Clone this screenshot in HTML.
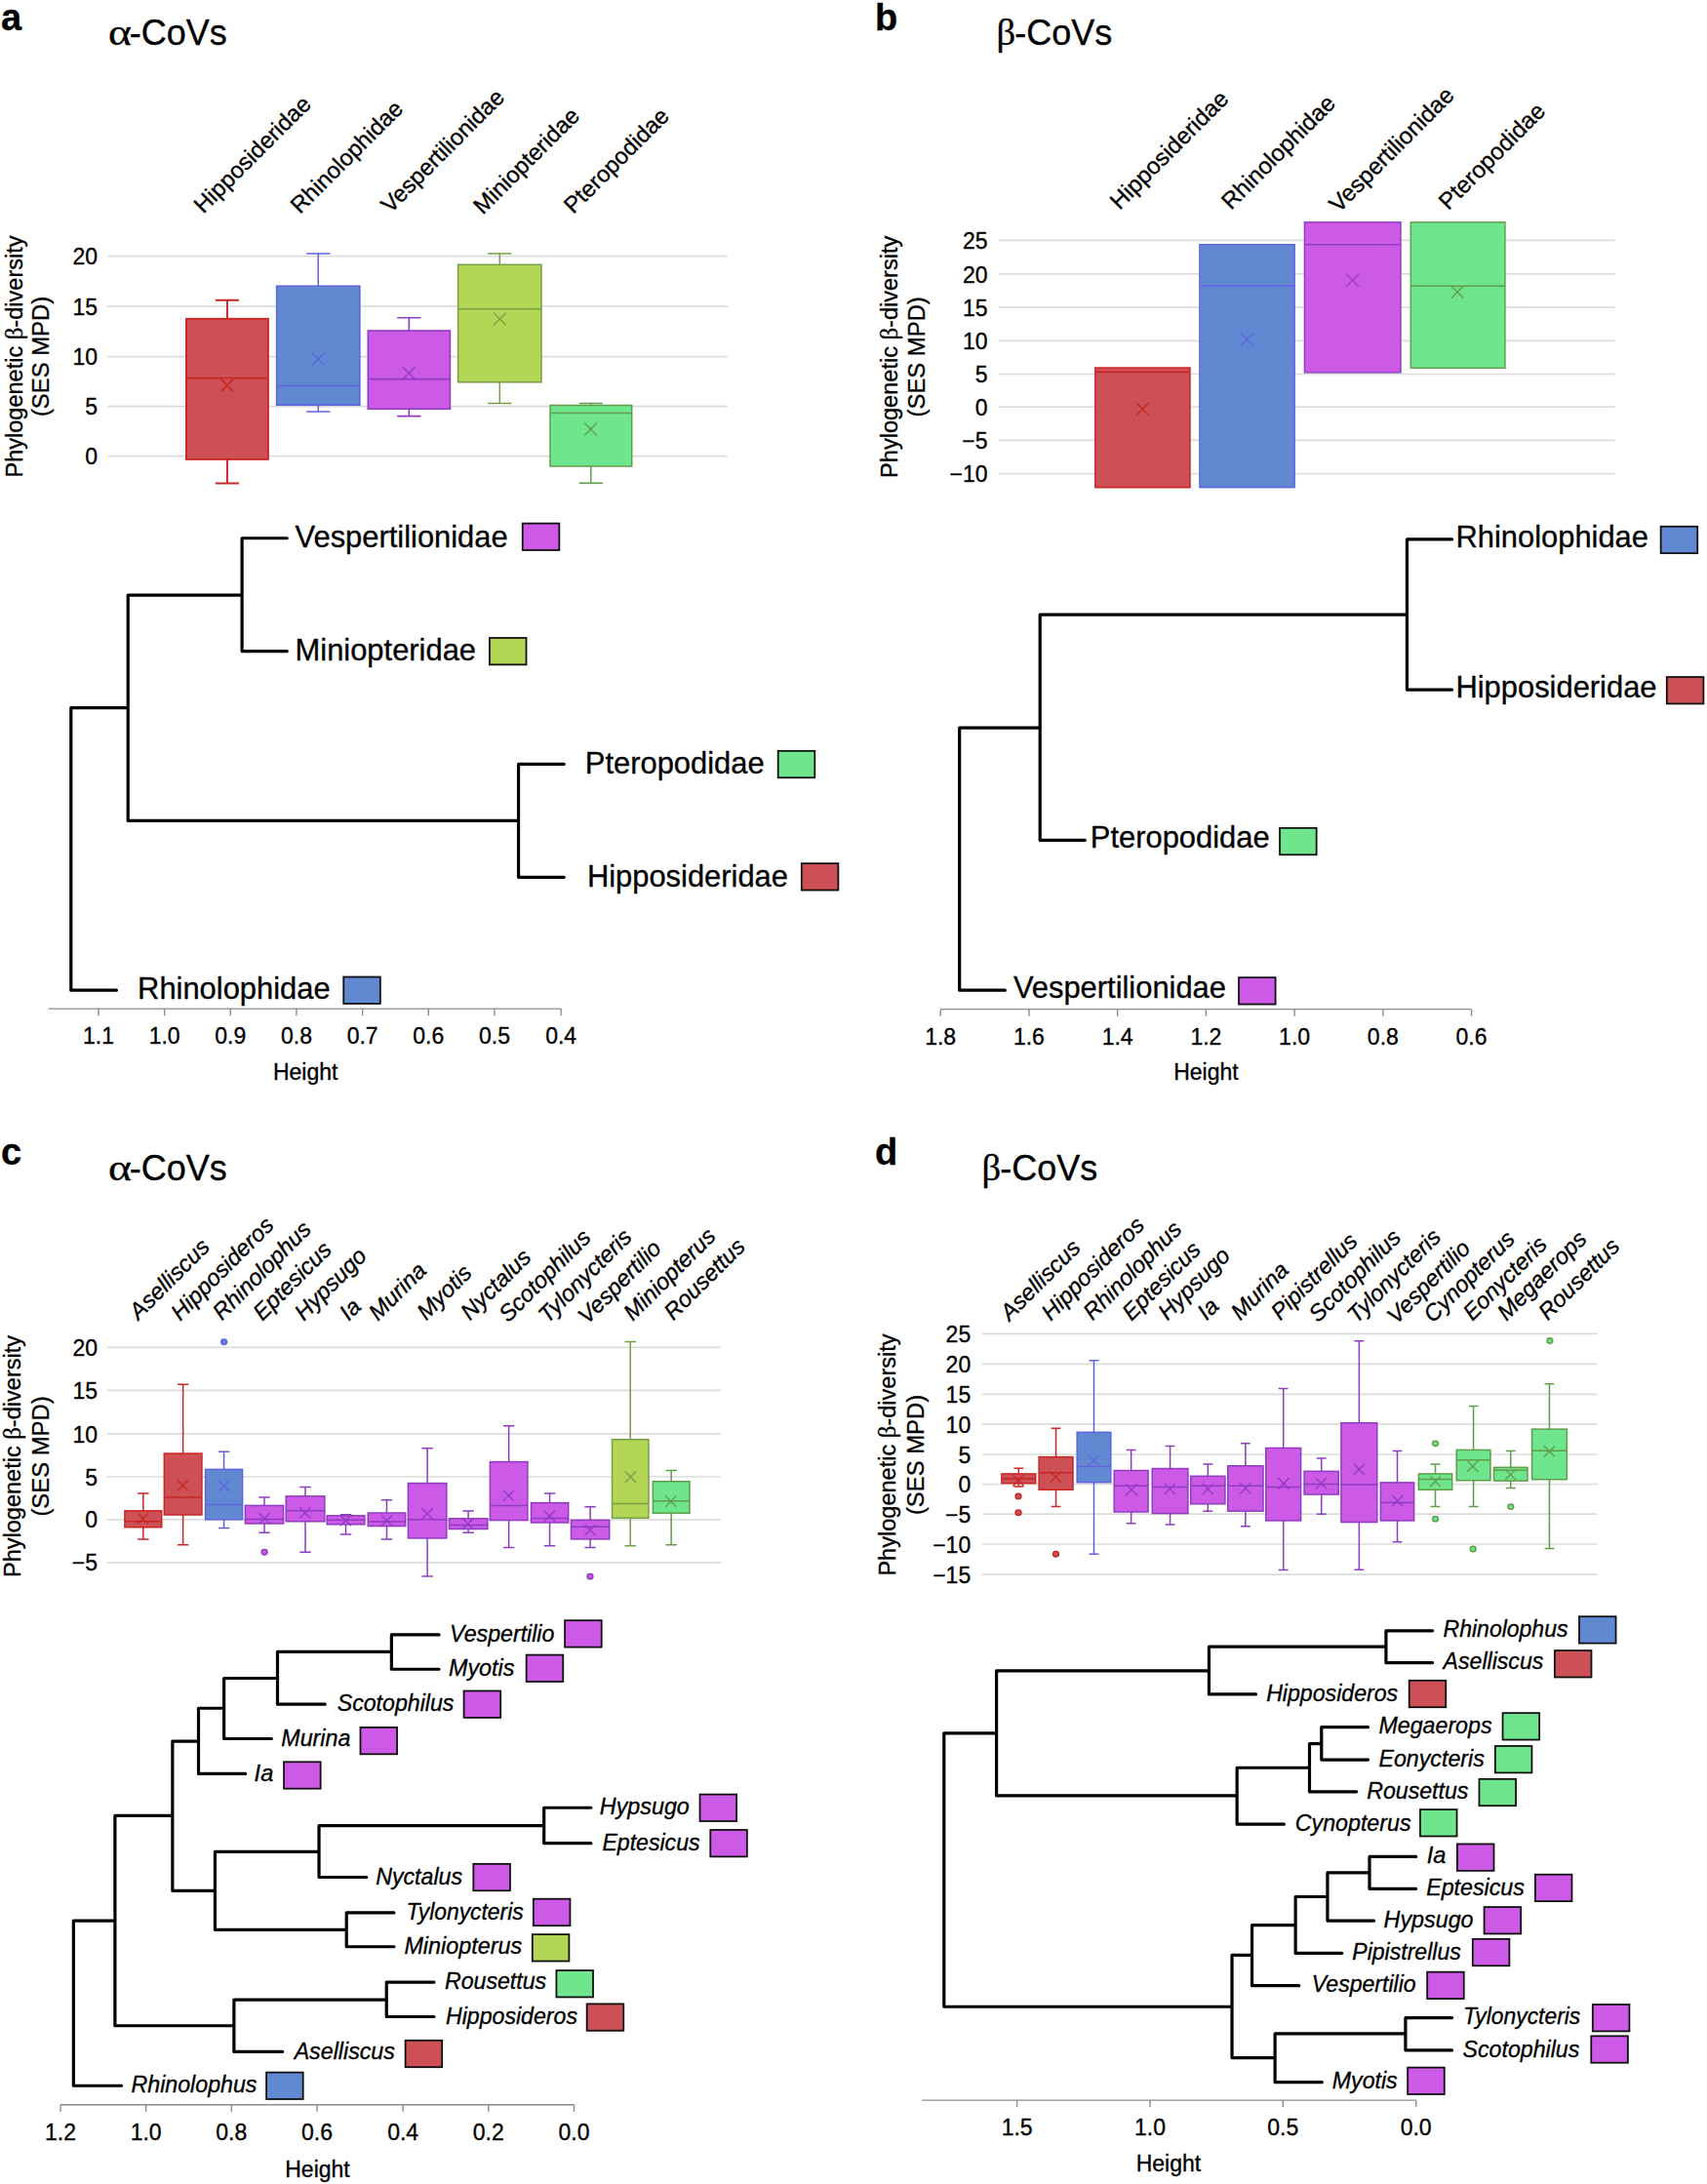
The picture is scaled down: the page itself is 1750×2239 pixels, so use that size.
<!DOCTYPE html>
<html lang="en">
<head>
<meta charset="utf-8">
<title>Phylogenetic beta-diversity of bat coronaviruses</title>
<style>
html,body{margin:0;padding:0;background:#fff}
body{width:1750px;height:2239px;overflow:hidden}
svg{display:block}
svg text{font-family:"Liberation Sans", Arial, Helvetica, sans-serif;fill:#000;stroke:#000;stroke-width:.32px;stroke-linejoin:round}
</style>
</head>
<body>
<svg width="1750" height="2239" viewBox="0 0 1750 2239" shape-rendering="geometricPrecision">
<rect width="1750" height="2239" fill="#fff"/>
<text x="1" y="31.2" font-size="38" text-anchor="start" font-weight="bold" stroke="none">a</text>
<text transform="translate(111 46) scale(1.18 1)" style='font-family:&quot;Liberation Serif&quot;, &quot;Times New Roman&quot;, serif' font-size="38.5">α</text>
<text x="132.8" y="46" font-size="36">-CoVs</text>
<text x="22.6" y="365.5" font-size="23.55" text-anchor="middle" transform="rotate(-90 22.6 365.5)">Phylogenetic <tspan font-family='"Liberation Serif", "Times New Roman", serif' font-size="24.73">β</tspan>-diversity</text>
<text x="50.4" y="365.5" font-size="23.85" text-anchor="middle" transform="rotate(-90 50.4 365.5)">(SES MPD)</text>
<line x1="110.3" y1="262.7" x2="745.8" y2="262.7" stroke="#dcdcdc" stroke-width="1.7"/>
<line x1="110.3" y1="314.1" x2="745.8" y2="314.1" stroke="#dcdcdc" stroke-width="1.7"/>
<line x1="110.3" y1="365.7" x2="745.8" y2="365.7" stroke="#dcdcdc" stroke-width="1.7"/>
<line x1="110.3" y1="416.6" x2="745.8" y2="416.6" stroke="#dcdcdc" stroke-width="1.7"/>
<line x1="110.3" y1="467.7" x2="745.8" y2="467.7" stroke="#dcdcdc" stroke-width="1.7"/>
<text x="100" y="271.3" font-size="23" text-anchor="end">20</text>
<text x="100" y="322.7" font-size="23" text-anchor="end">15</text>
<text x="100" y="374.3" font-size="23" text-anchor="end">10</text>
<text x="100" y="425.2" font-size="23" text-anchor="end">5</text>
<text x="100" y="476.3" font-size="23" text-anchor="end">0</text>
<g stroke="#c92626" stroke-width="1.9" fill="none"><path d="M232.95 326.8V307.7M220.8 307.7H245.1"/><path d="M232.95 470.9V495.5M220.8 495.5H245.1"/><rect x="191" y="326.8" width="83.9" height="144.1" fill="#cc5055"/><path d="M191 387.6H274.9"/><path d="M226.6 388.7L239.2 401.3M226.6 401.3L239.2 388.7" stroke-width="1.71"/></g>
<g stroke="#5f63de" stroke-width="1.5" fill="none"><path d="M326.25 293.2V259.9M314.1 259.9H338.4"/><path d="M326.25 415.3V422M314.1 422H338.4"/><rect x="283.6" y="293.2" width="85.3" height="122.1" fill="#6189d2"/><path d="M283.6 395.4H368.9"/><path d="M320 362L332.6 374.6M320 374.6L332.6 362" stroke-width="1.35"/></g>
<g stroke="#8e3cc0" stroke-width="1.6" fill="none"><path d="M419.35 339V325.8M407.2 325.8H431.5"/><path d="M419.35 419.3V426.6M407.2 426.6H431.5"/><rect x="377.3" y="339" width="84.1" height="80.3" fill="#cd5ae6"/><path d="M377.3 388.6H461.4"/><path d="M413 376.3L425.6 388.9M413 388.9L425.6 376.3" stroke-width="1.44"/></g>
<g stroke="#76a046" stroke-width="1.5" fill="none"><path d="M512.3 271.3V259.9M500.15 259.9H524.45"/><path d="M512.3 391.8V413.5M500.15 413.5H524.45"/><rect x="469.6" y="271.3" width="85.4" height="120.5" fill="#b3d656"/><path d="M469.6 316.7H555"/><path d="M506.1 320.7L518.7 333.3M506.1 333.3L518.7 320.7" stroke-width="1.35"/></g>
<g stroke="#5f9e48" stroke-width="1.5" fill="none"><path d="M605.85 415.5V413.5M593.7 413.5H618"/><path d="M605.85 478V495.3M593.7 495.3H618"/><rect x="564" y="415.5" width="83.7" height="62.5" fill="#6fe58e"/><path d="M564 423.6H647.7"/><path d="M599.3 433.7L611.9 446.3M599.3 446.3L611.9 433.7" stroke-width="1.35"/></g>
<text x="208.5" y="219.8" font-size="23.7" text-anchor="start" transform="rotate(-45 208.5 219.8)">Hipposideridae</text>
<text x="307.5" y="220" font-size="23.7" text-anchor="start" transform="rotate(-45 307.5 220)">Rhinolophidae</text>
<text x="400.2" y="219.4" font-size="23.7" text-anchor="start" transform="rotate(-45 400.2 219.4)">Vespertilionidae</text>
<text x="495" y="220.7" font-size="23.7" text-anchor="start" transform="rotate(-45 495 220.7)">Miniopteridae</text>
<text x="587.7" y="220" font-size="23.7" text-anchor="start" transform="rotate(-45 587.7 220)">Pteropodidae</text>
<text x="897" y="30.5" font-size="38" text-anchor="start" font-weight="bold" stroke="none">b</text>
<text transform="translate(1021.5 46) scale(1.03 1)" style='font-family:&quot;Liberation Serif&quot;, &quot;Times New Roman&quot;, serif' font-size="37.5">β</text>
<text x="1040.2" y="46" font-size="36">-CoVs</text>
<text x="919.9" y="365.8" font-size="23.55" text-anchor="middle" transform="rotate(-90 919.9 365.8)">Phylogenetic <tspan font-family='"Liberation Serif", "Times New Roman", serif' font-size="24.73">β</tspan>-diversity</text>
<text x="948.4" y="365.8" font-size="23.85" text-anchor="middle" transform="rotate(-90 948.4 365.8)">(SES MPD)</text>
<line x1="1023.6" y1="246.4" x2="1655.6" y2="246.4" stroke="#dcdcdc" stroke-width="1.7"/>
<line x1="1023.6" y1="280.9" x2="1655.6" y2="280.9" stroke="#dcdcdc" stroke-width="1.7"/>
<line x1="1023.6" y1="315.1" x2="1655.6" y2="315.1" stroke="#dcdcdc" stroke-width="1.7"/>
<line x1="1023.6" y1="349.3" x2="1655.6" y2="349.3" stroke="#dcdcdc" stroke-width="1.7"/>
<line x1="1023.6" y1="383.5" x2="1655.6" y2="383.5" stroke="#dcdcdc" stroke-width="1.7"/>
<line x1="1023.6" y1="417.2" x2="1655.6" y2="417.2" stroke="#dcdcdc" stroke-width="1.7"/>
<line x1="1023.6" y1="451.4" x2="1655.6" y2="451.4" stroke="#dcdcdc" stroke-width="1.7"/>
<line x1="1023.6" y1="485.7" x2="1655.6" y2="485.7" stroke="#dcdcdc" stroke-width="1.7"/>
<text x="1012.6" y="255" font-size="23" text-anchor="end">25</text>
<text x="1012.6" y="289.5" font-size="23" text-anchor="end">20</text>
<text x="1012.6" y="323.7" font-size="23" text-anchor="end">15</text>
<text x="1012.6" y="357.9" font-size="23" text-anchor="end">10</text>
<text x="1012.6" y="392.1" font-size="23" text-anchor="end">5</text>
<text x="1012.6" y="425.8" font-size="23" text-anchor="end">0</text>
<text x="1012.6" y="460" font-size="23" text-anchor="end">−5</text>
<text x="1012.6" y="494.3" font-size="23" text-anchor="end">−10</text>
<g stroke="#c92626" stroke-width="1.6" fill="none"><rect x="1122.9" y="377.1" width="97" height="122.6" fill="#cc5055"/><path d="M1122.9 381.4H1219.9"/><path d="M1165.1 413.1L1177.7 425.7M1165.1 425.7L1177.7 413.1" stroke-width="1.44"/></g>
<g stroke="#5f63de" stroke-width="1.4" fill="none"><rect x="1229.9" y="250.7" width="97.3" height="249" fill="#6189d2"/><path d="M1229.9 293.3H1327.2"/><path d="M1272.1 341.7L1284.7 354.3M1272.1 354.3L1284.7 341.7" stroke-width="1.26"/></g>
<g stroke="#8e3cc0" stroke-width="1.4" fill="none"><rect x="1337.4" y="227.8" width="98.6" height="154.1" fill="#cd5ae6"/><path d="M1337.4 250.7H1436"/><path d="M1380.4 281L1393 293.6M1380.4 293.6L1393 281" stroke-width="1.26"/></g>
<g stroke="#5f9e48" stroke-width="1.4" fill="none"><rect x="1446.3" y="227.8" width="96.7" height="149.5" fill="#6fe58e"/><path d="M1446.3 293.3H1543"/><path d="M1487.9 293.2L1500.5 305.8M1487.9 305.8L1500.5 293.2" stroke-width="1.26"/></g>
<text x="1147.7" y="216" font-size="24" text-anchor="start" transform="rotate(-45 1147.7 216)">Hipposideridae</text>
<text x="1262" y="215.9" font-size="24" text-anchor="start" transform="rotate(-45 1262 215.9)">Rhinolophidae</text>
<text x="1372.4" y="219" font-size="24" text-anchor="start" transform="rotate(-45 1372.4 219)">Vespertilionidae</text>
<text x="1484.8" y="216.2" font-size="24" text-anchor="start" transform="rotate(-45 1484.8 216.2)">Pteropodidae</text>
<path d="M248.1 551.76H294.23M248.1 667.61H294.23M248.1 551.76V667.61M131.22 610.2H248.1M531.56 783.45H578.21M531.56 899.3H578.21M531.56 783.45V899.3M131.22 841.38H531.56M131.22 610.2V841.38M72.79 725.53H131.22M72.79 1015.15H119.43M72.79 725.53V1015.15" fill="none" stroke="#000" stroke-width="3.2" stroke-linecap="round" stroke-linejoin="round"/>
<text x="302.56" y="560.96" font-size="30.9" text-anchor="start">Vespertilionidae</text>
<rect x="535.75" y="536.59" width="37.6" height="27.4" fill="#cd5ae6" stroke="#111" stroke-width="1.8"/>
<text x="302.56" y="676.81" font-size="30.9" text-anchor="start">Miniopteridae</text>
<rect x="501.92" y="653.98" width="37.6" height="27.4" fill="#b3d656" stroke="#111" stroke-width="1.8"/>
<text x="599.86" y="792.65" font-size="30.9" text-anchor="start">Pteropodidae</text>
<rect x="797.69" y="769.83" width="37.6" height="27.4" fill="#6fe58e" stroke="#111" stroke-width="1.8"/>
<text x="601.91" y="908.5" font-size="30.9" text-anchor="start">Hipposideridae</text>
<rect x="821.78" y="885.16" width="37.6" height="27.4" fill="#cc5055" stroke="#111" stroke-width="1.8"/>
<text x="141.09" y="1024.35" font-size="30.9" text-anchor="start">Rhinolophidae</text>
<rect x="352.24" y="1001.52" width="37.6" height="27.4" fill="#6189d2" stroke="#111" stroke-width="1.8"/>
<text x="100.98" y="1070.11" font-size="23" text-anchor="middle">1.1</text>
<text x="168.64" y="1070.11" font-size="23" text-anchor="middle">1.0</text>
<text x="236.31" y="1070.11" font-size="23" text-anchor="middle">0.9</text>
<text x="303.97" y="1070.11" font-size="23" text-anchor="middle">0.8</text>
<text x="371.63" y="1070.11" font-size="23" text-anchor="middle">0.7</text>
<text x="439.29" y="1070.11" font-size="23" text-anchor="middle">0.6</text>
<text x="506.96" y="1070.11" font-size="23" text-anchor="middle">0.5</text>
<text x="575.13" y="1070.11" font-size="23" text-anchor="middle">0.4</text>
<path d="M49.72 1034.11H575.13M100.98 1034.11v7.2M168.64 1034.11v7.2M236.31 1034.11v7.2M303.97 1034.11v7.2M371.63 1034.11v7.2M439.29 1034.11v7.2M506.96 1034.11v7.2M575.13 1034.11v7.2" fill="none" stroke="#8c8c8c" stroke-width="1.4"/>
<text x="313.2" y="1107.41" font-size="23" text-anchor="middle">Height</text>
<path d="M1442.44 552.8H1488.58M1442.44 707.09H1488.58M1442.44 552.8V707.09M1066.2 630.2H1442.44M1066.2 861.38H1112.33M1066.2 630.2V861.38M983.67 746.05H1066.2M983.67 1015.16H1030.32M983.67 746.05V1015.16" fill="none" stroke="#000" stroke-width="3.2" stroke-linecap="round" stroke-linejoin="round"/>
<text x="1492.46" y="560.7" font-size="30.9" text-anchor="start">Rhinolophidae</text>
<rect x="1702.64" y="539.77" width="37.6" height="27.4" fill="#6189d2" stroke="#111" stroke-width="1.8"/>
<text x="1492.46" y="714.99" font-size="30.9" text-anchor="start">Hipposideridae</text>
<rect x="1708.79" y="694.06" width="37.6" height="27.4" fill="#cc5055" stroke="#111" stroke-width="1.8"/>
<text x="1117.82" y="869.28" font-size="30.9" text-anchor="start">Pteropodidae</text>
<rect x="1312.04" y="848.86" width="37.6" height="27.4" fill="#6fe58e" stroke="#111" stroke-width="1.8"/>
<text x="1038.88" y="1023.06" font-size="30.9" text-anchor="start">Vespertilionidae</text>
<rect x="1270.01" y="1002.13" width="37.6" height="27.4" fill="#cd5ae6" stroke="#111" stroke-width="1.8"/>
<text x="964.19" y="1070.64" font-size="23" text-anchor="middle">1.8</text>
<text x="1054.92" y="1070.64" font-size="23" text-anchor="middle">1.6</text>
<text x="1145.65" y="1070.64" font-size="23" text-anchor="middle">1.4</text>
<text x="1236.38" y="1070.64" font-size="23" text-anchor="middle">1.2</text>
<text x="1327.11" y="1070.64" font-size="23" text-anchor="middle">1.0</text>
<text x="1417.84" y="1070.64" font-size="23" text-anchor="middle">0.8</text>
<text x="1508.57" y="1070.64" font-size="23" text-anchor="middle">0.6</text>
<path d="M964.19 1034.64H1508.57M964.19 1034.64v7.2M1054.92 1034.64v7.2M1145.65 1034.64v7.2M1236.38 1034.64v7.2M1327.11 1034.64v7.2M1417.84 1034.64v7.2M1508.57 1034.64v7.2" fill="none" stroke="#8c8c8c" stroke-width="1.4"/>
<text x="1236.38" y="1106.91" font-size="23" text-anchor="middle">Height</text>
<text x="1" y="1193.9" font-size="38" text-anchor="start" font-weight="bold" stroke="none">c</text>
<text transform="translate(111 1209.8) scale(1.18 1)" style='font-family:&quot;Liberation Serif&quot;, &quot;Times New Roman&quot;, serif' font-size="38.5">α</text>
<text x="132.8" y="1209.8" font-size="36">-CoVs</text>
<text x="21.4" y="1493" font-size="23.55" text-anchor="middle" transform="rotate(-90 21.4 1493)">Phylogenetic <tspan font-family='"Liberation Serif", "Times New Roman", serif' font-size="24.73">β</tspan>-diversity</text>
<text x="50.4" y="1493" font-size="23.85" text-anchor="middle" transform="rotate(-90 50.4 1493)">(SES MPD)</text>
<line x1="110" y1="1381.3" x2="739" y2="1381.3" stroke="#dcdcdc" stroke-width="1.7"/>
<line x1="110" y1="1425.3" x2="739" y2="1425.3" stroke="#dcdcdc" stroke-width="1.7"/>
<line x1="110" y1="1469.9" x2="739" y2="1469.9" stroke="#dcdcdc" stroke-width="1.7"/>
<line x1="110" y1="1514" x2="739" y2="1514" stroke="#dcdcdc" stroke-width="1.7"/>
<line x1="110" y1="1557.8" x2="739" y2="1557.8" stroke="#dcdcdc" stroke-width="1.7"/>
<line x1="110" y1="1601.8" x2="739" y2="1601.8" stroke="#dcdcdc" stroke-width="1.7"/>
<text x="100" y="1389.9" font-size="23" text-anchor="end">20</text>
<text x="100" y="1433.9" font-size="23" text-anchor="end">15</text>
<text x="100" y="1478.5" font-size="23" text-anchor="end">10</text>
<text x="100" y="1522.6" font-size="23" text-anchor="end">5</text>
<text x="100" y="1566.4" font-size="23" text-anchor="end">0</text>
<text x="100" y="1610.4" font-size="23" text-anchor="end">−5</text>
<g stroke="#c92626" stroke-width="1.5" fill="none"><path d="M146.81 1548.82V1531.1M141.11 1531.1H152.51"/><path d="M146.81 1565.75V1577.9M141.11 1577.9H152.51"/><rect x="127.89" y="1548.82" width="37.84" height="16.93" fill="#cc5055"/><path d="M127.89 1559.78H165.73"/><path d="M141.01 1550.99L152.21 1562.19M141.01 1562.19L152.21 1550.99" stroke-width="1.35"/></g>
<g stroke="#c92626" stroke-width="1.5" fill="none"><path d="M187.64 1490.06V1419.36M181.94 1419.36H193.34"/><path d="M187.64 1553.01V1583.68M181.94 1583.68H193.34"/><rect x="168.32" y="1490.06" width="38.64" height="62.94" fill="#cc5055"/><path d="M168.32 1535.08H206.96"/><path d="M181.84 1517.33L193.04 1528.53M181.84 1528.53L193.04 1517.33" stroke-width="1.35"/></g>
<g stroke="#5f63de" stroke-width="1.5" fill="none"><path d="M229.57 1506.4V1488.27M223.87 1488.27H235.27"/><path d="M229.57 1557.79V1566.55M223.87 1566.55H235.27"/><rect x="210.54" y="1506.4" width="38.04" height="51.39" fill="#6189d2"/><path d="M210.54 1542.45H248.59"/><path d="M224.07 1517.73L235.27 1528.93M224.07 1528.93L235.27 1517.73" stroke-width="1.35"/><ellipse cx="229.67" cy="1375.74" rx="2.9" ry="2.7" fill="#6189d2" stroke-width="1.5"/></g>
<g stroke="#8e3cc0" stroke-width="1.5" fill="none"><path d="M271 1543.44V1535.08M265.3 1535.08H276.7"/><path d="M271 1561.97V1571.13M265.3 1571.13H276.7"/><rect x="251.38" y="1543.44" width="39.24" height="18.52" fill="#cd5ae6"/><path d="M251.38 1557.59H290.62"/><path d="M265.5 1551.19L276.7 1562.39M265.5 1562.39L276.7 1551.19" stroke-width="1.35"/><ellipse cx="271.1" cy="1591.25" rx="2.9" ry="2.7" fill="#cd5ae6" stroke-width="1.5"/></g>
<g stroke="#8e3cc0" stroke-width="1.5" fill="none"><path d="M313.02 1533.88V1524.52M307.32 1524.52H318.72"/><path d="M313.02 1559.78V1591.25M307.32 1591.25H318.72"/><rect x="293.2" y="1533.88" width="39.64" height="25.89" fill="#cd5ae6"/><path d="M293.2 1548.82H332.84"/><path d="M307.12 1545.21L318.32 1556.41M307.12 1556.41L318.32 1545.21" stroke-width="1.35"/></g>
<g stroke="#8e3cc0" stroke-width="1.5" fill="none"><path d="M354.55 1553.8V1552.81M348.85 1552.81H360.25"/><path d="M354.55 1562.77V1573.12M348.85 1573.12H360.25"/><rect x="335.23" y="1553.8" width="38.64" height="8.96" fill="#cd5ae6"/><path d="M335.23 1558.18H373.87"/><path d="M348.75 1553.18L359.95 1564.38M348.75 1564.38L359.95 1553.18" stroke-width="1.35"/></g>
<g stroke="#8e3cc0" stroke-width="1.5" fill="none"><path d="M396.48 1551.01V1537.67M390.78 1537.67H402.18"/><path d="M396.48 1564.56V1577.9M390.78 1577.9H402.18"/><rect x="377.26" y="1551.01" width="38.44" height="13.54" fill="#cd5ae6"/><path d="M377.26 1559.98H415.7"/><path d="M390.98 1553.18L402.18 1564.38M390.98 1564.38L402.18 1553.18" stroke-width="1.35"/></g>
<g stroke="#8e3cc0" stroke-width="1.5" fill="none"><path d="M438.08 1520.54V1484.69M432.38 1484.69H443.78"/><path d="M438.08 1576.91V1615.95M432.38 1615.95H443.78"/><rect x="418.37" y="1520.54" width="39.44" height="56.37" fill="#cd5ae6"/><path d="M418.37 1557.79H457.8"/><path d="M432.48 1546.21L443.68 1557.41M432.48 1557.41L443.68 1546.21" stroke-width="1.35"/></g>
<g stroke="#8e3cc0" stroke-width="1.5" fill="none"><path d="M480.11 1556.79V1549.02M474.41 1549.02H485.81"/><path d="M480.11 1567.55V1571.13M474.41 1571.13H485.81"/><rect x="460.39" y="1556.79" width="39.44" height="10.76" fill="#cd5ae6"/><path d="M460.39 1563.56H499.83"/><path d="M474.11 1556.57L485.31 1567.77M474.11 1567.77L485.31 1556.57" stroke-width="1.35"/></g>
<g stroke="#8e3cc0" stroke-width="1.5" fill="none"><path d="M521.64 1498.63V1461.78M515.94 1461.78H527.34"/><path d="M521.64 1558.58V1586.47M515.94 1586.47H527.34"/><rect x="502.42" y="1498.63" width="38.44" height="59.95" fill="#cd5ae6"/><path d="M502.42 1543.44H540.86"/><path d="M515.94 1527.69L527.14 1538.89M515.94 1538.89L527.14 1527.69" stroke-width="1.35"/></g>
<g stroke="#8e3cc0" stroke-width="1.5" fill="none"><path d="M563.57 1540.66V1531.1M557.87 1531.1H569.27"/><path d="M563.57 1560.97V1584.67M557.87 1584.67H569.27"/><rect x="544.45" y="1540.66" width="38.24" height="20.32" fill="#cd5ae6"/><path d="M544.45 1556.59H582.69"/><path d="M557.77 1548.6L568.97 1559.8M557.77 1559.8L568.97 1548.6" stroke-width="1.35"/></g>
<g stroke="#8e3cc0" stroke-width="1.5" fill="none"><path d="M605.1 1558.38V1544.64M599.4 1544.64H610.8"/><path d="M605.1 1577.9V1586.47M599.4 1586.47H610.8"/><rect x="585.48" y="1558.38" width="39.24" height="19.52" fill="#cd5ae6"/><path d="M585.48 1565.35H624.72"/><path d="M599.4 1562.94L610.6 1574.14M599.4 1574.14L610.6 1562.94" stroke-width="1.35"/><ellipse cx="605" cy="1616.15" rx="2.9" ry="2.7" fill="#cd5ae6" stroke-width="1.5"/></g>
<g stroke="#76a046" stroke-width="1.5" fill="none"><path d="M646.23 1475.72V1375.54M640.53 1375.54H651.93"/><path d="M646.23 1556.19V1584.67M640.53 1584.67H651.93"/><rect x="627.5" y="1475.72" width="37.45" height="80.47" fill="#b3d656"/><path d="M627.5 1541.45H664.95"/><path d="M640.83 1508.57L652.03 1519.77M640.83 1519.77L652.03 1508.57" stroke-width="1.35"/></g>
<g stroke="#5f9e48" stroke-width="1.5" fill="none"><path d="M688.15 1518.75V1507.39M682.45 1507.39H693.85"/><path d="M688.15 1551.21V1583.68M682.45 1583.68H693.85"/><rect x="669.33" y="1518.75" width="37.64" height="32.47" fill="#6fe58e"/><path d="M669.33 1538.86H706.98"/><path d="M682.26 1533.46L693.46 1544.66M682.26 1544.66L693.46 1533.46" stroke-width="1.35"/></g>
<text x="142.1" y="1353.9" font-size="23.6" text-anchor="start" font-style="italic" transform="rotate(-45 142.1 1353.9)">Aselliscus</text>
<text x="184.7" y="1354.9" font-size="23.6" text-anchor="start" font-style="italic" transform="rotate(-45 184.7 1354.9)">Hipposideros</text>
<text x="227.6" y="1354.5" font-size="23.6" text-anchor="start" font-style="italic" transform="rotate(-45 227.6 1354.5)">Rhinolophus</text>
<text x="269" y="1354.9" font-size="23.6" text-anchor="start" font-style="italic" transform="rotate(-45 269 1354.9)">Eptesicus</text>
<text x="311.4" y="1354.9" font-size="23.6" text-anchor="start" font-style="italic" transform="rotate(-45 311.4 1354.9)">Hypsugo</text>
<text x="357.6" y="1354.9" font-size="23.6" text-anchor="start" font-style="italic" transform="rotate(-45 357.6 1354.9)">Ia</text>
<text x="387.5" y="1354.9" font-size="23.6" text-anchor="start" font-style="italic" transform="rotate(-45 387.5 1354.9)">Murina</text>
<text x="436.9" y="1354.5" font-size="23.6" text-anchor="start" font-style="italic" transform="rotate(-45 436.9 1354.5)">Myotis</text>
<text x="481.8" y="1354.4" font-size="23.6" text-anchor="start" font-style="italic" transform="rotate(-45 481.8 1354.4)">Nyctalus</text>
<text x="520.9" y="1356.5" font-size="23.6" text-anchor="start" font-style="italic" transform="rotate(-45 520.9 1356.5)">Scotophilus</text>
<text x="561.4" y="1357.4" font-size="23.6" text-anchor="start" font-style="italic" transform="rotate(-45 561.4 1357.4)">Tylonycteris</text>
<text x="602.1" y="1358.5" font-size="23.6" text-anchor="start" font-style="italic" transform="rotate(-45 602.1 1358.5)">Vespertilio</text>
<text x="648.8" y="1355" font-size="23.6" text-anchor="start" font-style="italic" transform="rotate(-45 648.8 1355)">Miniopterus</text>
<text x="690.2" y="1354.4" font-size="23.6" text-anchor="start" font-style="italic" transform="rotate(-45 690.2 1354.4)">Rousettus</text>
<text x="897" y="1193.5" font-size="38" text-anchor="start" font-weight="bold" stroke="none">d</text>
<text transform="translate(1006.5 1209.8) scale(1.03 1)" style='font-family:&quot;Liberation Serif&quot;, &quot;Times New Roman&quot;, serif' font-size="37.5">β</text>
<text x="1025.2" y="1209.8" font-size="36">-CoVs</text>
<text x="917.9" y="1491.5" font-size="23.55" text-anchor="middle" transform="rotate(-90 917.9 1491.5)">Phylogenetic <tspan font-family='"Liberation Serif", "Times New Roman", serif' font-size="24.73">β</tspan>-diversity</text>
<text x="947.1" y="1491.5" font-size="23.85" text-anchor="middle" transform="rotate(-90 947.1 1491.5)">(SES MPD)</text>
<line x1="1007" y1="1367.3" x2="1637.6" y2="1367.3" stroke="#dcdcdc" stroke-width="1.7"/>
<line x1="1007" y1="1398.4" x2="1637.6" y2="1398.4" stroke="#dcdcdc" stroke-width="1.7"/>
<line x1="1007" y1="1429.3" x2="1637.6" y2="1429.3" stroke="#dcdcdc" stroke-width="1.7"/>
<line x1="1007" y1="1459.9" x2="1637.6" y2="1459.9" stroke="#dcdcdc" stroke-width="1.7"/>
<line x1="1007" y1="1491" x2="1637.6" y2="1491" stroke="#dcdcdc" stroke-width="1.7"/>
<line x1="1007" y1="1521.5" x2="1637.6" y2="1521.5" stroke="#dcdcdc" stroke-width="1.7"/>
<line x1="1007" y1="1552.2" x2="1637.6" y2="1552.2" stroke="#dcdcdc" stroke-width="1.7"/>
<line x1="1007" y1="1583" x2="1637.6" y2="1583" stroke="#dcdcdc" stroke-width="1.7"/>
<line x1="1007" y1="1614.1" x2="1637.6" y2="1614.1" stroke="#dcdcdc" stroke-width="1.7"/>
<text x="995.2" y="1375.9" font-size="23" text-anchor="end">25</text>
<text x="995.2" y="1407" font-size="23" text-anchor="end">20</text>
<text x="995.2" y="1437.9" font-size="23" text-anchor="end">15</text>
<text x="995.2" y="1468.5" font-size="23" text-anchor="end">10</text>
<text x="995.2" y="1499.6" font-size="23" text-anchor="end">5</text>
<text x="995.2" y="1530.1" font-size="23" text-anchor="end">0</text>
<text x="995.2" y="1560.8" font-size="23" text-anchor="end">−5</text>
<text x="995.2" y="1591.6" font-size="23" text-anchor="end">−10</text>
<text x="995.2" y="1622.7" font-size="23" text-anchor="end">−15</text>
<g stroke="#c92626" stroke-width="1.5" fill="none"><path d="M1044.32 1510.94V1505.36M1039.42 1505.36H1049.22"/><path d="M1044.32 1520.7V1523.88M1039.42 1523.88H1049.22"/><rect x="1026.89" y="1510.94" width="34.86" height="9.76" fill="#cc5055"/><path d="M1026.89 1515.92H1061.75"/><path d="M1038.42 1512.31L1049.62 1523.51M1038.42 1523.51L1049.62 1512.31" stroke-width="1.35"/><ellipse cx="1044.02" cy="1534.04" rx="2.9" ry="2.7" fill="#cc5055" stroke-width="1.5"/><ellipse cx="1044.02" cy="1550.77" rx="2.9" ry="2.7" fill="#cc5055" stroke-width="1.5"/></g>
<g stroke="#c92626" stroke-width="1.5" fill="none"><path d="M1082.56 1493.61V1464.33M1077.66 1464.33H1087.46"/><path d="M1082.56 1527.27V1544.4M1077.66 1544.4H1087.46"/><rect x="1065.13" y="1493.61" width="34.86" height="33.66" fill="#cc5055"/><path d="M1065.13 1509.74H1099.99"/><path d="M1076.66 1508.52L1087.86 1519.72M1076.66 1519.72L1087.86 1508.52" stroke-width="1.35"/><ellipse cx="1082.46" cy="1593.2" rx="2.9" ry="2.7" fill="#cc5055" stroke-width="1.5"/></g>
<g stroke="#5f63de" stroke-width="1.5" fill="none"><path d="M1121.5 1468.31V1394.82M1116.6 1394.82H1126.4"/><path d="M1121.5 1519.7V1593.2M1116.6 1593.2H1126.4"/><rect x="1104.17" y="1468.31" width="34.66" height="51.39" fill="#6189d2"/><path d="M1104.17 1503.57H1138.83"/><path d="M1115.7 1491.59L1126.9 1502.79M1115.7 1502.79L1126.9 1491.59" stroke-width="1.35"/></g>
<g stroke="#8e3cc0" stroke-width="1.5" fill="none"><path d="M1159.64 1507.55V1486.44M1154.74 1486.44H1164.54"/><path d="M1159.64 1549.98V1561.73M1154.74 1561.73H1164.54"/><rect x="1142.21" y="1507.55" width="34.86" height="42.43" fill="#cd5ae6"/><path d="M1142.21 1523.29H1177.07"/><path d="M1154.34 1521.47L1165.54 1532.67M1154.34 1532.67L1165.54 1521.47" stroke-width="1.35"/></g>
<g stroke="#8e3cc0" stroke-width="1.5" fill="none"><path d="M1199.58 1505.56V1482.45M1194.68 1482.45H1204.48"/><path d="M1199.58 1551.57V1562.92M1194.68 1562.92H1204.48"/><rect x="1181.25" y="1505.56" width="36.65" height="46.01" fill="#cd5ae6"/><path d="M1181.25 1524.48H1217.9"/><path d="M1193.78 1520.87L1204.98 1532.07M1193.78 1532.07L1204.98 1520.87" stroke-width="1.35"/></g>
<g stroke="#8e3cc0" stroke-width="1.5" fill="none"><path d="M1238.32 1513.33V1500.98M1233.42 1500.98H1243.22"/><path d="M1238.32 1541.81V1549.18M1233.42 1549.18H1243.22"/><rect x="1220.69" y="1513.33" width="35.25" height="28.48" fill="#cd5ae6"/><path d="M1220.69 1523.29H1255.95"/><path d="M1232.62 1520.87L1243.82 1532.07M1232.62 1532.07L1243.82 1520.87" stroke-width="1.35"/></g>
<g stroke="#8e3cc0" stroke-width="1.5" fill="none"><path d="M1276.86 1502.77V1479.87M1271.96 1479.87H1281.76"/><path d="M1276.86 1549.18V1564.72M1271.96 1564.72H1281.76"/><rect x="1258.73" y="1502.77" width="36.25" height="46.41" fill="#cd5ae6"/><path d="M1258.73 1523.29H1294.99"/><path d="M1271.26 1520.28L1282.46 1531.48M1271.26 1531.48L1282.46 1520.28" stroke-width="1.35"/></g>
<g stroke="#8e3cc0" stroke-width="1.5" fill="none"><path d="M1315.7 1484.45V1423.5M1310.8 1423.5H1320.6"/><path d="M1315.7 1558.94V1609.53M1310.8 1609.53H1320.6"/><rect x="1297.77" y="1484.45" width="35.85" height="74.49" fill="#cd5ae6"/><path d="M1297.77 1524.48H1333.63"/><path d="M1310.3 1515.3L1321.5 1526.5M1310.3 1526.5L1321.5 1515.3" stroke-width="1.35"/></g>
<g stroke="#8e3cc0" stroke-width="1.5" fill="none"><path d="M1354.72 1508.35V1495M1349.82 1495H1359.62"/><path d="M1354.72 1532.05V1552.17M1349.82 1552.17H1359.62"/><rect x="1337.09" y="1508.35" width="35.25" height="23.7" fill="#cd5ae6"/><path d="M1337.09 1521.49H1372.34"/><path d="M1348.82 1515.3L1360.02 1526.5M1348.82 1526.5L1360.02 1515.3" stroke-width="1.35"/></g>
<g stroke="#8e3cc0" stroke-width="1.5" fill="none"><path d="M1393.36 1458.75V1374.7M1388.46 1374.7H1398.26"/><path d="M1393.36 1560.53V1609.33M1388.46 1609.33H1398.26"/><rect x="1374.93" y="1458.75" width="36.85" height="101.78" fill="#cd5ae6"/><path d="M1374.93 1522.09H1411.78"/><path d="M1387.86 1500.76L1399.06 1511.96M1387.86 1511.96L1399.06 1500.76" stroke-width="1.35"/></g>
<g stroke="#8e3cc0" stroke-width="1.5" fill="none"><path d="M1432.5 1519.9V1487.43M1427.6 1487.43H1437.4"/><path d="M1432.5 1558.94V1580.85M1427.6 1580.85H1437.4"/><rect x="1415.37" y="1519.9" width="34.26" height="39.04" fill="#cd5ae6"/><path d="M1415.37 1540.62H1449.63"/><path d="M1427.09 1533.02L1438.29 1544.22M1427.09 1544.22L1438.29 1533.02" stroke-width="1.35"/></g>
<g stroke="#5f9e48" stroke-width="1.5" fill="none"><path d="M1471.53 1510.94V1500.98M1466.63 1500.98H1476.43"/><path d="M1471.53 1527.27V1544.4M1466.63 1544.4H1476.43"/><rect x="1454.41" y="1510.94" width="34.26" height="16.33" fill="#6fe58e"/><path d="M1454.41 1516.51H1488.66"/><path d="M1465.93 1513.11L1477.13 1524.31M1465.93 1524.31L1477.13 1513.11" stroke-width="1.35"/><ellipse cx="1471.53" cy="1479.87" rx="2.9" ry="2.7" fill="#6fe58e" stroke-width="1.5"/><ellipse cx="1471.53" cy="1557.15" rx="2.9" ry="2.7" fill="#6fe58e" stroke-width="1.5"/></g>
<g stroke="#5f9e48" stroke-width="1.5" fill="none"><path d="M1510.57 1486.44V1441.62M1505.67 1441.62H1515.47"/><path d="M1510.57 1517.71V1544.4M1505.67 1544.4H1515.47"/><rect x="1493.25" y="1486.44" width="34.66" height="31.27" fill="#6fe58e"/><path d="M1493.25 1496.8H1527.9"/><path d="M1504.18 1497.57L1515.38 1508.77M1504.18 1508.77L1515.38 1497.57" stroke-width="1.35"/><ellipse cx="1510.18" cy="1588.02" rx="2.9" ry="2.7" fill="#6fe58e" stroke-width="1.5"/></g>
<g stroke="#5f9e48" stroke-width="1.5" fill="none"><path d="M1548.72 1504.36V1487.43M1543.82 1487.43H1553.62"/><path d="M1548.72 1518.11V1525.48M1543.82 1525.48H1553.62"/><rect x="1531.49" y="1504.36" width="34.46" height="13.74" fill="#6fe58e"/><path d="M1531.49 1507.35H1565.95"/><path d="M1543.02 1506.13L1554.22 1517.33M1543.02 1517.33L1554.22 1506.13" stroke-width="1.35"/><ellipse cx="1548.82" cy="1544.6" rx="2.9" ry="2.7" fill="#6fe58e" stroke-width="1.5"/></g>
<g stroke="#5f9e48" stroke-width="1.5" fill="none"><path d="M1588.45 1465.13V1418.72M1583.55 1418.72H1593.35"/><path d="M1588.45 1516.71V1587.42M1583.55 1587.42H1593.35"/><rect x="1570.53" y="1465.13" width="35.85" height="51.59" fill="#6fe58e"/><path d="M1570.53 1487.23H1606.38"/><path d="M1582.85 1482.23L1594.05 1493.43M1582.85 1493.43L1594.05 1482.23" stroke-width="1.35"/><ellipse cx="1588.85" cy="1374.5" rx="2.9" ry="2.7" fill="#6fe58e" stroke-width="1.5"/></g>
<text x="1034.9" y="1354.9" font-size="23.6" text-anchor="start" font-style="italic" transform="rotate(-45 1034.9 1354.9)">Aselliscus</text>
<text x="1077.3" y="1354.9" font-size="23.6" text-anchor="start" font-style="italic" transform="rotate(-45 1077.3 1354.9)">Hipposideros</text>
<text x="1120.1" y="1354.5" font-size="23.6" text-anchor="start" font-style="italic" transform="rotate(-45 1120.1 1354.5)">Rhinolophus</text>
<text x="1160" y="1354.9" font-size="23.6" text-anchor="start" font-style="italic" transform="rotate(-45 1160 1354.9)">Eptesicus</text>
<text x="1196.8" y="1354.5" font-size="23.6" text-anchor="start" font-style="italic" transform="rotate(-45 1196.8 1354.5)">Hypsugo</text>
<text x="1237.1" y="1354.5" font-size="23.6" text-anchor="start" font-style="italic" transform="rotate(-45 1237.1 1354.5)">Ia</text>
<text x="1271.5" y="1354.5" font-size="23.6" text-anchor="start" font-style="italic" transform="rotate(-45 1271.5 1354.5)">Murina</text>
<text x="1312.4" y="1354.5" font-size="23.6" text-anchor="start" font-style="italic" transform="rotate(-45 1312.4 1354.5)">Pipistrellus</text>
<text x="1351.3" y="1356.5" font-size="23.6" text-anchor="start" font-style="italic" transform="rotate(-45 1351.3 1356.5)">Scotophilus</text>
<text x="1390.8" y="1357.4" font-size="23.6" text-anchor="start" font-style="italic" transform="rotate(-45 1390.8 1357.4)">Tylonycteris</text>
<text x="1431.4" y="1358.5" font-size="23.6" text-anchor="start" font-style="italic" transform="rotate(-45 1431.4 1358.5)">Vespertilio</text>
<text x="1469.1" y="1357" font-size="23.6" text-anchor="start" font-style="italic" transform="rotate(-45 1469.1 1357)">Cynopterus</text>
<text x="1509.4" y="1355" font-size="23.6" text-anchor="start" font-style="italic" transform="rotate(-45 1509.4 1355)">Eonycteris</text>
<text x="1544.6" y="1355" font-size="23.6" text-anchor="start" font-style="italic" transform="rotate(-45 1544.6 1355)">Megaerops</text>
<text x="1586.8" y="1354.4" font-size="23.6" text-anchor="start" font-style="italic" transform="rotate(-45 1586.8 1354.4)">Rousettus</text>
<path d="M401.36 1675.88H450.06M401.36 1711.25H450.06M401.36 1675.88V1711.25M284.49 1693.31H401.36M284.49 1747.13H333.19M284.49 1693.31V1747.13M229.64 1720.48H284.49M229.64 1782.5H278.34M229.64 1720.48V1782.5M203.5 1751.23H229.64M203.5 1818.38H251.68M203.5 1751.23V1818.38M176.85 1785.06H203.5M557.7 1853.24H605.89M557.7 1889.63H605.89M557.7 1853.24V1889.63M327.04 1871.69H557.7M327.04 1924.49H375.73M327.04 1871.69V1924.49M220.42 1898.35H327.04M355.23 1960.88H403.93M355.23 1995.74H403.93M355.23 1960.88V1995.74M220.42 1978.31H355.23M220.42 1898.35V1978.31M176.85 1938.33H220.42M176.85 1785.06V1938.33M117.9 1861.44H176.85M396.24 2032.14H444.93M396.24 2067.5H444.93M396.24 2032.14V2067.5M239.89 2050.08H396.24M239.89 2103.39H289.62M239.89 2050.08V2103.39M117.9 2076.73H239.89M117.9 1861.44V2076.73M75.35 1969.09H117.9M75.35 2138.24H124.56M75.35 1969.09V2138.24" fill="none" stroke="#000" stroke-width="3.2" stroke-linecap="round" stroke-linejoin="round"/>
<text x="461.06" y="1683.08" font-size="23.4" text-anchor="start" font-style="italic" textLength="107.37" lengthAdjust="spacingAndGlyphs">Vespertilio</text>
<rect x="579.12" y="1661.22" width="37.6" height="27.4" fill="#cd5ae6" stroke="#111" stroke-width="1.8"/>
<text x="460.04" y="1718.45" font-size="23.4" text-anchor="start" font-style="italic" textLength="67.39" lengthAdjust="spacingAndGlyphs">Myotis</text>
<rect x="539.65" y="1696.59" width="37.6" height="27.4" fill="#cd5ae6" stroke="#111" stroke-width="1.8"/>
<text x="345.73" y="1754.33" font-size="23.4" text-anchor="start" font-style="italic" textLength="119.67" lengthAdjust="spacingAndGlyphs">Scotophilus</text>
<rect x="475.58" y="1733.49" width="37.6" height="27.4" fill="#cd5ae6" stroke="#111" stroke-width="1.8"/>
<text x="288.32" y="1789.7" font-size="23.4" text-anchor="start" font-style="italic" textLength="70.98" lengthAdjust="spacingAndGlyphs">Murina</text>
<rect x="369.47" y="1770.91" width="37.6" height="27.4" fill="#cd5ae6" stroke="#111" stroke-width="1.8"/>
<text x="260.64" y="1825.58" font-size="23.4" text-anchor="start" font-style="italic" textLength="19.72" lengthAdjust="spacingAndGlyphs">Ia</text>
<rect x="291.04" y="1806.28" width="37.6" height="27.4" fill="#cd5ae6" stroke="#111" stroke-width="1.8"/>
<text x="614.84" y="1860.44" font-size="23.4" text-anchor="start" font-style="italic" textLength="91.99" lengthAdjust="spacingAndGlyphs">Hypsugo</text>
<rect x="717.52" y="1839.6" width="37.6" height="27.4" fill="#cd5ae6" stroke="#111" stroke-width="1.8"/>
<text x="617.4" y="1896.83" font-size="23.4" text-anchor="start" font-style="italic" textLength="100.19" lengthAdjust="spacingAndGlyphs">Eptesicus</text>
<rect x="728.29" y="1875.99" width="37.6" height="27.4" fill="#cd5ae6" stroke="#111" stroke-width="1.8"/>
<text x="385.2" y="1931.69" font-size="23.4" text-anchor="start" font-style="italic" textLength="88.92" lengthAdjust="spacingAndGlyphs">Nyctalus</text>
<rect x="485.32" y="1910.85" width="37.6" height="27.4" fill="#cd5ae6" stroke="#111" stroke-width="1.8"/>
<text x="416.47" y="1968.08" font-size="23.4" text-anchor="start" font-style="italic" textLength="120.18" lengthAdjust="spacingAndGlyphs">Tylonycteris</text>
<rect x="546.83" y="1946.73" width="37.6" height="27.4" fill="#cd5ae6" stroke="#111" stroke-width="1.8"/>
<text x="414.41" y="2002.94" font-size="23.4" text-anchor="start" font-style="italic" textLength="120.7" lengthAdjust="spacingAndGlyphs">Miniopterus</text>
<rect x="545.8" y="1983.13" width="37.6" height="27.4" fill="#b3d656" stroke="#111" stroke-width="1.8"/>
<text x="455.93" y="2039.34" font-size="23.4" text-anchor="start" font-style="italic" textLength="104.29" lengthAdjust="spacingAndGlyphs">Rousettus</text>
<rect x="570.41" y="2020.03" width="37.6" height="27.4" fill="#6fe58e" stroke="#111" stroke-width="1.8"/>
<text x="456.96" y="2074.7" font-size="23.4" text-anchor="start" font-style="italic" textLength="135.05" lengthAdjust="spacingAndGlyphs">Hipposideros</text>
<rect x="601.67" y="2054.38" width="37.6" height="27.4" fill="#cc5055" stroke="#111" stroke-width="1.8"/>
<text x="301.64" y="2110.59" font-size="23.4" text-anchor="start" font-style="italic" textLength="103.27" lengthAdjust="spacingAndGlyphs">Aselliscus</text>
<rect x="415.6" y="2091.8" width="37.6" height="27.4" fill="#cc5055" stroke="#111" stroke-width="1.8"/>
<text x="134.54" y="2145.44" font-size="23.4" text-anchor="start" font-style="italic" textLength="128.9" lengthAdjust="spacingAndGlyphs">Rhinolophus</text>
<rect x="273.1" y="2124.6" width="37.6" height="27.4" fill="#6189d2" stroke="#111" stroke-width="1.8"/>
<text x="62.02" y="2193.72" font-size="23" text-anchor="middle">1.2</text>
<text x="149.68" y="2193.72" font-size="23" text-anchor="middle">1.0</text>
<text x="237.33" y="2193.72" font-size="23" text-anchor="middle">0.8</text>
<text x="324.99" y="2193.72" font-size="23" text-anchor="middle">0.6</text>
<text x="413.15" y="2193.72" font-size="23" text-anchor="middle">0.4</text>
<text x="500.81" y="2193.72" font-size="23" text-anchor="middle">0.2</text>
<text x="588.46" y="2193.72" font-size="23" text-anchor="middle">0.0</text>
<path d="M62.02 2157.72H588.46M62.02 2157.72v7.2M149.68 2157.72v7.2M237.33 2157.72v7.2M324.99 2157.72v7.2M413.15 2157.72v7.2M500.81 2157.72v7.2M588.46 2157.72v7.2" fill="none" stroke="#8c8c8c" stroke-width="1.4"/>
<text x="325.5" y="2231.53" font-size="23" text-anchor="middle">Height</text>
<path d="M1420.91 1671.78H1468.59M1420.91 1704.59H1468.59M1420.91 1671.78V1704.59M1239.46 1688.18H1420.91M1239.46 1736.88H1287.64M1239.46 1688.18V1736.88M1021.6 1712.79H1239.46M1354.79 1770.71H1402.46M1354.79 1804.03H1402.46M1354.79 1770.71V1804.03M1342.49 1787.63H1354.79M1342.49 1836.84H1390.67M1342.49 1787.63V1836.84M1268.16 1812.23H1342.49M1268.16 1870.16H1316.34M1268.16 1812.23V1870.16M1021.6 1840.94H1268.16M1021.6 1712.79V1840.94M967.78 1776.86H1021.6M1404 1903.47H1451.67M1404 1936.28H1451.67M1404 1903.47V1936.28M1360.94 1919.88H1404M1360.94 1969.09H1408.61M1360.94 1919.88V1969.09M1328.13 1944.48H1360.94M1328.13 2002.4H1375.81M1328.13 1944.48V2002.4M1283.54 1973.7H1328.13M1283.54 2035.72H1331.72M1283.54 1973.7V2035.72M1263.03 2004.46H1283.54M1440.91 2068.53H1488.58M1440.91 2101.85H1488.58M1440.91 2068.53V2101.85M1307.12 2084.93H1440.91M1307.12 2134.65H1355.3M1307.12 2084.93V2134.65M1263.03 2109.54H1307.12M1263.03 2004.46V2109.54M967.78 2057.25H1263.03M967.78 1776.86V2057.25" fill="none" stroke="#000" stroke-width="3.2" stroke-linecap="round" stroke-linejoin="round"/>
<text x="1479.59" y="1678.48" font-size="23.4" text-anchor="start" font-style="italic" textLength="127.87" lengthAdjust="spacingAndGlyphs">Rhinolophus</text>
<rect x="1618.98" y="1657.23" width="37.6" height="27.4" fill="#6189d2" stroke="#111" stroke-width="1.8"/>
<text x="1479.59" y="1711.29" font-size="23.4" text-anchor="start" font-style="italic" textLength="102.76" lengthAdjust="spacingAndGlyphs">Aselliscus</text>
<rect x="1593.86" y="1692.08" width="37.6" height="27.4" fill="#cc5055" stroke="#111" stroke-width="1.8"/>
<text x="1298.13" y="1743.58" font-size="23.4" text-anchor="start" font-style="italic" textLength="135.05" lengthAdjust="spacingAndGlyphs">Hipposideros</text>
<rect x="1444.69" y="1722.84" width="37.6" height="27.4" fill="#cc5055" stroke="#111" stroke-width="1.8"/>
<text x="1413.46" y="1777.41" font-size="23.4" text-anchor="start" font-style="italic" textLength="116.08" lengthAdjust="spacingAndGlyphs">Megaerops</text>
<rect x="1540.55" y="1756.16" width="37.6" height="27.4" fill="#6fe58e" stroke="#111" stroke-width="1.8"/>
<text x="1413.46" y="1810.73" font-size="23.4" text-anchor="start" font-style="italic" textLength="108.39" lengthAdjust="spacingAndGlyphs">Eonycteris</text>
<rect x="1532.86" y="1789.99" width="37.6" height="27.4" fill="#6fe58e" stroke="#111" stroke-width="1.8"/>
<text x="1401.16" y="1843.54" font-size="23.4" text-anchor="start" font-style="italic" textLength="104.29" lengthAdjust="spacingAndGlyphs">Rousettus</text>
<rect x="1516.46" y="1823.82" width="37.6" height="27.4" fill="#6fe58e" stroke="#111" stroke-width="1.8"/>
<text x="1327.86" y="1876.86" font-size="23.4" text-anchor="start" font-style="italic" textLength="118.65" lengthAdjust="spacingAndGlyphs">Cynopterus</text>
<rect x="1455.97" y="1855.09" width="37.6" height="27.4" fill="#6fe58e" stroke="#111" stroke-width="1.8"/>
<text x="1462.67" y="1910.17" font-size="23.4" text-anchor="start" font-style="italic" textLength="19.72" lengthAdjust="spacingAndGlyphs">Ia</text>
<rect x="1493.9" y="1890.46" width="37.6" height="27.4" fill="#cd5ae6" stroke="#111" stroke-width="1.8"/>
<text x="1462.16" y="1942.98" font-size="23.4" text-anchor="start" font-style="italic" textLength="100.71" lengthAdjust="spacingAndGlyphs">Eptesicus</text>
<rect x="1573.87" y="1921.73" width="37.6" height="27.4" fill="#cd5ae6" stroke="#111" stroke-width="1.8"/>
<text x="1418.59" y="1975.79" font-size="23.4" text-anchor="start" font-style="italic" textLength="91.99" lengthAdjust="spacingAndGlyphs">Hypsugo</text>
<rect x="1521.58" y="1955.05" width="37.6" height="27.4" fill="#cd5ae6" stroke="#111" stroke-width="1.8"/>
<text x="1386.3" y="2009.1" font-size="23.4" text-anchor="start" font-style="italic" textLength="111.47" lengthAdjust="spacingAndGlyphs">Pipistrellus</text>
<rect x="1509.79" y="1987.85" width="37.6" height="27.4" fill="#cd5ae6" stroke="#111" stroke-width="1.8"/>
<text x="1344.77" y="2042.42" font-size="23.4" text-anchor="start" font-style="italic" textLength="106.86" lengthAdjust="spacingAndGlyphs">Vespertilio</text>
<rect x="1463.15" y="2021.68" width="37.6" height="27.4" fill="#cd5ae6" stroke="#111" stroke-width="1.8"/>
<text x="1500.09" y="2075.23" font-size="23.4" text-anchor="start" font-style="italic" textLength="120.18" lengthAdjust="spacingAndGlyphs">Tylonycteris</text>
<rect x="1632.82" y="2055" width="37.6" height="27.4" fill="#cd5ae6" stroke="#111" stroke-width="1.8"/>
<text x="1499.58" y="2108.55" font-size="23.4" text-anchor="start" font-style="italic" textLength="119.67" lengthAdjust="spacingAndGlyphs">Scotophilus</text>
<rect x="1631.28" y="2087.3" width="37.6" height="27.4" fill="#cd5ae6" stroke="#111" stroke-width="1.8"/>
<text x="1365.79" y="2141.35" font-size="23.4" text-anchor="start" font-style="italic" textLength="66.87" lengthAdjust="spacingAndGlyphs">Myotis</text>
<rect x="1443.16" y="2119.59" width="37.6" height="27.4" fill="#cd5ae6" stroke="#111" stroke-width="1.8"/>
<text x="1042.62" y="2189.11" font-size="23" text-anchor="middle">1.5</text>
<text x="1178.97" y="2189.11" font-size="23" text-anchor="middle">1.0</text>
<text x="1315.32" y="2189.11" font-size="23" text-anchor="middle">0.5</text>
<text x="1451.67" y="2189.11" font-size="23" text-anchor="middle">0.0</text>
<path d="M945.23 2153.11H1451.67M1042.62 2153.11v7.2M1178.97 2153.11v7.2M1315.32 2153.11v7.2M1451.67 2153.11v7.2" fill="none" stroke="#8c8c8c" stroke-width="1.4"/>
<text x="1197.93" y="2225.9" font-size="23" text-anchor="middle">Height</text>
</svg>
</body>
</html>
